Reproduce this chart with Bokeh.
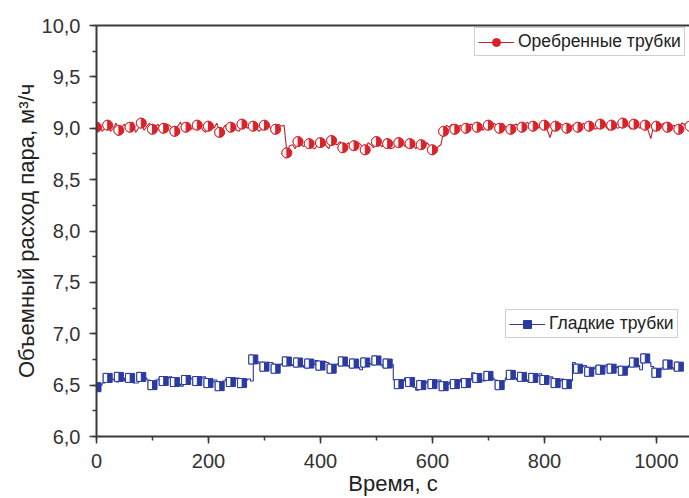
from bokeh.plotting import figure
from bokeh.models import (ColumnDataSource, Range1d, SingleIntervalTicker, CustomJSTickFormatter,
                          LinearAxis, FixedTicker, Legend, LegendItem)
from bokeh.transform import dodge
from bokeh.embed import file_html
from bokeh.resources import INLINE
import math

# ---- data ----
red_label = "Оребренные трубки"
blue_label = "Гладкие трубки"

# readings every 10 s (marked points)
red_time = list(range(0, 1061, 10))
red_values = [
    9.01, 8.97, 9.03, 9.00, 8.98, 9.04, 9.01, 8.96, 9.05, 9.02, 8.99, 9.04, 9.00, 9.03, 8.97, 9.06, 9.01,
    8.99, 9.03, 8.98, 9.02, 9.00, 8.96, 9.03, 9.01, 8.98, 9.04, 9.00, 9.02, 8.97, 9.03, 9.01, 8.99, 9.02,
    8.76,
    8.84, 8.87, 8.82, 8.85, 8.80, 8.86, 8.83, 8.88, 8.84, 8.81, 8.86, 8.83, 8.85, 8.79, 8.84, 8.87, 8.82,
    8.85, 8.81, 8.86, 8.83, 8.85, 8.80, 8.84, 8.86,
    8.79, 8.82, 8.97,
    9.01, 8.99, 9.03, 9.00, 9.04, 9.01, 8.98, 9.03, 9.05, 9.00, 9.02, 8.99, 9.04, 9.01, 9.06, 9.02, 9.00,
    9.03, 8.91, 9.02, 9.04, 9.00, 9.03, 9.01, 9.05, 9.02, 8.99, 9.04, 9.01, 9.03, 9.00, 9.05, 9.02, 9.04,
    9.00, 9.03, 8.90, 9.02, 9.04, 9.01, 9.03, 8.99, 9.04, 9.02,
]
# intermediate readings (t = 5, 15, ..., 1055 s)
red_mid_time = list(range(5, 1056, 10))
red_mid_values = [
    9.04, 9.00, 8.97, 9.05, 9.01, 8.98, 9.06, 9.00, 8.98, 9.05, 9.01, 8.97, 9.04, 9.00, 9.02, 8.98, 9.05,
    9.00, 9.04, 8.96, 9.03, 9.05, 8.99, 9.00, 9.04, 8.97, 9.02, 9.05, 9.00, 8.99, 9.04, 8.97, 9.04,
    9.03, 8.83,
    8.80, 8.85, 8.87, 8.81, 8.84, 8.88, 8.80, 8.85, 8.87, 8.83, 8.80, 8.87, 8.82, 8.86, 8.81, 8.84, 8.88,
    8.80, 8.84, 8.87, 8.81, 8.86, 8.83, 8.81,
    8.83, 8.78, 8.84, 9.03,
    9.04, 9.01, 8.98, 9.03, 9.00, 9.05, 9.01, 8.99, 9.02, 9.05, 8.98, 9.03, 9.00, 9.04, 8.99, 9.03, 9.05,
    8.98, 9.00, 9.05, 9.01, 8.98, 9.04, 9.02, 8.99, 9.04, 9.00, 9.05, 8.98, 9.03, 9.01, 9.04, 8.99, 9.05,
    9.01, 8.98, 9.03, 9.00, 9.05, 8.98, 9.02, 9.05, 9.00,
]

blue_time = list(range(0, 1041, 10))
blue_values = [
    6.48, 6.52, 6.57, 6.55, 6.58, 6.54, 6.57, 6.52, 6.58, 6.55, 6.50, 6.56, 6.54, 6.58, 6.53, 6.49, 6.55,
    6.57, 6.54, 6.58, 6.52, 6.55, 6.49, 6.56, 6.53, 6.57, 6.52, 6.56,
    6.75, 6.71, 6.68, 6.72, 6.66, 6.71, 6.73, 6.69, 6.72, 6.67, 6.71, 6.74, 6.69, 6.72, 6.66, 6.71, 6.73,
    6.68, 6.71, 6.65, 6.72, 6.70, 6.74, 6.68, 6.71,
    6.55, 6.51, 6.57, 6.53, 6.45, 6.50, 6.54, 6.51, 6.55, 6.49, 6.53, 6.51, 6.56, 6.52,
    6.62, 6.57, 6.54, 6.59, 6.55, 6.50, 6.57, 6.60, 6.55, 6.58, 6.53, 6.57, 6.61, 6.55, 6.58, 6.52, 6.56, 6.51,
    6.72, 6.66, 6.69, 6.63, 6.68, 6.65, 6.70, 6.66, 6.68, 6.64, 6.69, 6.72, 6.65, 6.76, 6.68, 6.62, 6.67,
    6.70, 6.65, 6.68,
]
blue_mid_time = list(range(5, 1036, 10))
blue_mid_values = [
    6.50, 6.55, 6.56, 6.53, 6.57, 6.55, 6.52, 6.56, 6.57, 6.52, 6.55, 6.53, 6.57, 6.55, 6.51, 6.54, 6.56,
    6.52, 6.57, 6.55, 6.53, 6.51, 6.54, 6.55, 6.56, 6.53, 6.55, 6.54,
    6.73, 6.70, 6.72, 6.68, 6.70, 6.72, 6.70, 6.71, 6.69, 6.73, 6.70, 6.71, 6.73, 6.68, 6.70, 6.72, 6.69,
    6.70, 6.67, 6.70, 6.71, 6.72, 6.70, 6.72, 6.70,
    6.53, 6.54, 6.55, 6.48, 6.47, 6.52, 6.52, 6.53, 6.51, 6.51, 6.52, 6.53, 6.54, 6.55,
    6.59, 6.55, 6.57, 6.57, 6.52, 6.54, 6.58, 6.57, 6.56, 6.55, 6.55, 6.59, 6.58, 6.57, 6.55, 6.54, 6.53, 6.54,
    6.69, 6.68, 6.66, 6.66, 6.67, 6.68, 6.68, 6.67, 6.66, 6.67, 6.71, 6.69, 6.72, 6.72, 6.64, 6.65, 6.69,
    6.67, 6.67,
]

x_ticks_interval = 200
y_ticks_interval = 0.5

RED = "#d9222a"
RED_LINE = "#c8202a"
BLUE = "#2a3aa0"
AXIS = "#3a3a3a"
FONT = "Liberation Sans"


def merge(t1, v1, t2, v2):
    pairs = sorted(zip(list(t1) + list(t2), list(v1) + list(v2)))
    return [a for a, _ in pairs], [b for _, b in pairs]


rt, rv = merge(red_time, red_values, red_mid_time, red_mid_values)
bt, bv = merge(blue_time, blue_values, blue_mid_time, blue_mid_values)

red_src = ColumnDataSource(dict(t=rt, v=rv))
red_mk = ColumnDataSource(dict(t=red_time[::2], v=red_values[::2]))
blue_src = ColumnDataSource(dict(t=bt, v=bv))
blue_mk = ColumnDataSource(dict(t=blue_time[::2], v=blue_values[::2]))

p = figure(width=689, height=498, output_backend="svg", toolbar_location=None,
           x_range=Range1d(0, 1059), y_range=Range1d(6.0, 10.0),
           min_border_left=96, min_border_right=0, min_border_top=25, min_border_bottom=60)
p.outline_line_color = None
p.grid.visible = False
p.background_fill_color = "white"
p.border_fill_color = "white"

# lines
red_line = p.line("t", "v", source=red_src, line_color=RED_LINE, line_width=1.1)
blue_line = p.step("t", "v", source=blue_src, line_color=BLUE, line_width=1.1, mode="after")

# red half-filled circles
red_sc = p.scatter("t", "v", source=red_mk, marker="circle", size=10,
                   fill_color=RED, line_color=RED, line_width=1)
p.wedge("t", "v", source=red_mk, radius=5, radius_units="screen",
        start_angle=math.pi / 2, end_angle=3 * math.pi / 2,
        fill_color="white", line_color=RED, line_width=1)

# blue half-filled squares
blue_sc = p.scatter("t", "v", source=blue_mk, marker="square", size=9,
                    fill_color=BLUE, line_color=BLUE, line_width=1)
p.rect(dodge("t", -4.0, range=p.x_range), "v", source=blue_mk, width=4.5, height=9,
       width_units="screen", height_units="screen",
       fill_color="white", line_color=BLUE, line_width=1)

# axes
xa = p.xaxis[0]
xa.ticker = SingleIntervalTicker(interval=x_ticks_interval, num_minor_ticks=2)
xa.axis_label = "Время, с"
ya = p.yaxis[0]
ya.ticker = SingleIntervalTicker(interval=y_ticks_interval, num_minor_ticks=2)
ya.formatter = CustomJSTickFormatter(code="return tick.toFixed(1).replace('.', ',');")
ya.axis_label = "Объемный расход пара, м³/ч"

for ax in (xa, ya):
    ax.axis_line_color = AXIS
    ax.axis_line_width = 2
    ax.major_tick_line_color = AXIS
    ax.major_tick_line_width = 1.5
    ax.minor_tick_line_color = AXIS
    ax.minor_tick_line_width = 1.5
    ax.major_tick_out = 7
    ax.major_tick_in = 0
    ax.minor_tick_out = 4
    ax.minor_tick_in = 0
    ax.major_label_text_font = FONT
    ax.major_label_text_font_size = "20px"
    ax.major_label_text_color = "#333333"
    ax.axis_label_text_font = FONT
    ax.axis_label_text_font_size = "22px"
    ax.axis_label_text_font_style = "normal"
    ax.axis_label_text_color = "#222222"
    ax.axis_label_standoff = 0

ya.major_label_standoff = 9
xa.major_label_standoff = 10

top = LinearAxis(ticker=FixedTicker(ticks=[]), axis_line_color=AXIS, axis_line_width=2,
                 major_tick_line_color=None, minor_tick_line_color=None)
p.add_layout(top, "above")


# legends
def mk_legend(label, rends, loc):
    lg = Legend(items=[LegendItem(label=label, renderers=rends)], location=loc,
                orientation="vertical", label_text_font=FONT, label_text_font_size="17.5px",
                label_text_color="#222222", glyph_width=36, glyph_height=20,
                label_standoff=4, padding=3, spacing=0, margin=0,
                border_line_color="#a0a0a0", border_line_width=1,
                background_fill_color="white", background_fill_alpha=1)
    p.add_layout(lg)


mk_legend(red_label, [red_line, red_sc], (378, 380))
mk_legend(blue_label, [blue_line, blue_sc], (409, 98))

open("out.html", "w").write(file_html(p, INLINE))
